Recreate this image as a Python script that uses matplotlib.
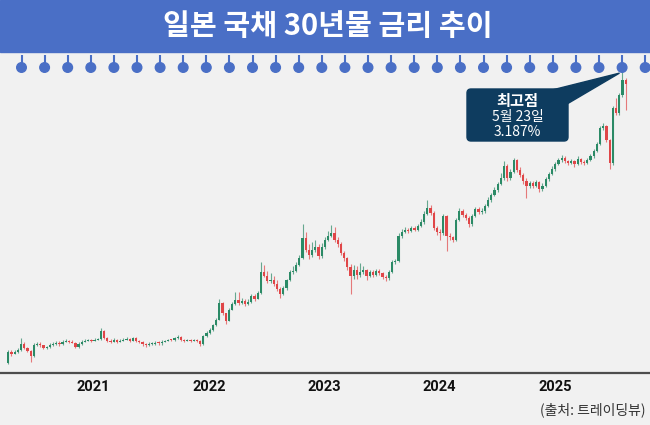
import matplotlib
matplotlib.use('Agg')
import matplotlib.pyplot as plt
import matplotlib.dates as mdates
from matplotlib.patches import Rectangle, Circle, FancyBboxPatch, Polygon
import pandas as pd
import numpy as np

plt.rcParams['font.family'] = ['Noto Sans CJK KR', 'DejaVu Sans']

# ---------------- data ----------------
title = "일본 국채 30년물 금리 추이"
source = "(출처: 트레이딩뷰)"
callout_lines = ["최고점", "5월 23일", "3.187%"]
year_labels = ["2021", "2022", "2023", "2024", "2025"]
year_ticks = ["2021-01-01", "2022-01-01", "2023-01-01", "2024-01-01", "2025-01-01"]
start_date = "2020-04-06"
end_date = "2025-08-12"

first_open = 0.543
close = [0.643, 0.625, 0.643, 0.661, 0.715, 0.679, 0.652, 0.606, 0.706, 0.715,
         0.706, 0.679, 0.688, 0.706, 0.715, 0.725, 0.715, 0.734, 0.743, 0.734,
         0.725, 0.688, 0.715, 0.734, 0.743, 0.752, 0.743, 0.752, 0.761, 0.834,
         0.770, 0.743, 0.734, 0.752, 0.734, 0.743, 0.752, 0.761, 0.743, 0.770,
         0.743, 0.734, 0.715, 0.706, 0.715, 0.718, 0.725, 0.722, 0.734, 0.743,
         0.752, 0.749, 0.770, 0.779, 0.752, 0.743, 0.752, 0.743, 0.752, 0.743,
         0.715, 0.788, 0.815, 0.843, 0.888, 0.934, 1.088, 0.997, 0.925, 1.025,
         1.079, 1.115, 1.088, 1.106, 1.079, 1.097, 1.152, 1.125, 1.179, 1.370,
         1.334, 1.288, 1.297, 1.261, 1.215, 1.170, 1.225, 1.297, 1.370, 1.379,
         1.434, 1.497, 1.679, 1.570, 1.525, 1.570, 1.597, 1.515, 1.597, 1.661,
         1.697, 1.725, 1.661, 1.625, 1.543, 1.497, 1.415, 1.334, 1.388, 1.343,
         1.370, 1.388, 1.334, 1.370, 1.343, 1.379, 1.361, 1.325, 1.315, 1.370,
         1.461, 1.470, 1.697, 1.734, 1.752, 1.743, 1.770, 1.752, 1.788, 1.825,
         1.897, 1.952, 1.906, 1.770, 1.734, 1.725, 1.879, 1.697, 1.688, 1.661,
         1.843, 1.925, 1.888, 1.861, 1.806, 1.879, 1.943, 1.915, 1.925, 1.970,
         2.025, 2.070, 2.115, 2.170, 2.225, 2.334, 2.225, 2.279, 2.388, 2.297,
         2.252, 2.197, 2.152, 2.179, 2.152, 2.188, 2.125, 2.152, 2.215, 2.261,
         2.306, 2.352, 2.388, 2.406, 2.379, 2.361, 2.379, 2.352, 2.397, 2.370,
         2.361, 2.388, 2.425, 2.470, 2.534, 2.679, 2.697, 2.570, 2.361, 2.861,
         2.815, 2.979, 3.115, 3.079]
high = [0.66, 0.66, 0.66, 0.68, 0.77, 0.73, 0.69, 0.66, 0.72, 0.73,
        0.73, 0.71, 0.70, 0.72, 0.73, 0.74, 0.74, 0.75, 0.76, 0.75,
        0.75, 0.73, 0.73, 0.75, 0.76, 0.76, 0.76, 0.77, 0.77, 0.86,
        0.84, 0.78, 0.76, 0.77, 0.76, 0.76, 0.77, 0.78, 0.77, 0.78,
        0.78, 0.75, 0.74, 0.72, 0.73, 0.73, 0.74, 0.74, 0.75, 0.75,
        0.76, 0.76, 0.78, 0.80, 0.79, 0.76, 0.76, 0.76, 0.76, 0.76,
        0.75, 0.80, 0.83, 0.86, 0.90, 0.95, 1.12, 1.10, 1.00, 1.04,
        1.10, 1.19, 1.19, 1.13, 1.12, 1.12, 1.17, 1.17, 1.20, 1.46,
        1.43, 1.38, 1.36, 1.33, 1.30, 1.23, 1.24, 1.31, 1.39, 1.42,
        1.46, 1.52, 1.81, 1.73, 1.62, 1.64, 1.66, 1.62, 1.63, 1.69,
        1.74, 1.80, 1.78, 1.69, 1.64, 1.56, 1.51, 1.44, 1.43, 1.42,
        1.45, 1.42, 1.40, 1.39, 1.39, 1.40, 1.40, 1.37, 1.34, 1.39,
        1.48, 1.49, 1.72, 1.76, 1.78, 1.77, 1.79, 1.79, 1.81, 1.85,
        1.92, 2.02, 1.98, 1.92, 1.79, 1.76, 1.90, 1.89, 1.72, 1.70,
        1.86, 1.95, 1.94, 1.91, 1.88, 1.90, 1.96, 1.96, 1.95, 1.99,
        2.05, 2.09, 2.14, 2.19, 2.27, 2.38, 2.35, 2.31, 2.41, 2.40,
        2.32, 2.27, 2.22, 2.20, 2.20, 2.21, 2.20, 2.18, 2.23, 2.28,
        2.33, 2.37, 2.41, 2.43, 2.42, 2.39, 2.40, 2.39, 2.42, 2.41,
        2.39, 2.41, 2.44, 2.49, 2.55, 2.70, 2.72, 2.71, 2.58, 2.88,
        2.95, 3.00, 3.187, 3.13]
low = [0.53, 0.61, 0.62, 0.63, 0.65, 0.67, 0.64, 0.55, 0.60, 0.70,
       0.69, 0.67, 0.67, 0.68, 0.70, 0.71, 0.70, 0.71, 0.73, 0.72,
       0.72, 0.68, 0.68, 0.71, 0.73, 0.74, 0.73, 0.74, 0.75, 0.75,
       0.76, 0.73, 0.72, 0.73, 0.72, 0.73, 0.74, 0.75, 0.73, 0.74,
       0.73, 0.72, 0.70, 0.69, 0.70, 0.71, 0.71, 0.71, 0.71, 0.73,
       0.74, 0.74, 0.74, 0.76, 0.74, 0.73, 0.74, 0.73, 0.74, 0.73,
       0.70, 0.71, 0.78, 0.81, 0.83, 0.88, 0.93, 0.98, 0.90, 0.92,
       1.02, 1.07, 1.07, 1.08, 1.06, 1.07, 1.09, 1.11, 1.12, 1.17,
       1.32, 1.27, 1.27, 1.24, 1.20, 1.13, 1.16, 1.21, 1.29, 1.35,
       1.37, 1.42, 1.49, 1.55, 1.49, 1.51, 1.55, 1.49, 1.50, 1.58,
       1.65, 1.69, 1.64, 1.60, 1.52, 1.47, 1.39, 1.17, 1.31, 1.31,
       1.32, 1.35, 1.30, 1.32, 1.32, 1.33, 1.34, 1.31, 1.29, 1.30,
       1.36, 1.44, 1.46, 1.68, 1.72, 1.72, 1.73, 1.74, 1.74, 1.78,
       1.81, 1.89, 1.89, 1.75, 1.71, 1.66, 1.71, 1.56, 1.66, 1.64,
       1.65, 1.83, 1.87, 1.84, 1.78, 1.79, 1.87, 1.90, 1.90, 1.91,
       1.96, 2.01, 2.06, 2.10, 2.16, 2.21, 2.20, 2.21, 2.27, 2.28,
       2.23, 2.17, 2.04, 2.13, 2.13, 2.14, 2.10, 2.11, 2.14, 2.20,
       2.25, 2.29, 2.34, 2.37, 2.36, 2.34, 2.35, 2.32, 2.34, 2.35,
       2.34, 2.35, 2.38, 2.41, 2.46, 2.52, 2.66, 2.55, 2.31, 2.34,
       2.80, 2.80, 2.96, 2.84]

# ---------------- figure ----------------
W, H = 650, 425
fig = plt.figure(figsize=(W / 100, H / 100), dpi=100)
fig.patch.set_facecolor('#f1f1f1')

axis_y_px, top_px = 373, 50
ax = fig.add_axes([0, 1 - axis_y_px / H, 1, (axis_y_px - top_px) / H])
ax.set_facecolor('none')

dates = pd.date_range(start_date, end_date, periods=len(close))
x = mdates.date2num(dates)
c = np.array(close)
o = np.array([first_open] + close[:-1])
up = c >= o
green, red = '#2b8a66', '#e04648'
colors = np.where(up, green, red)

ax.vlines(x, low, high, colors=colors, linewidth=0.8, alpha=0.7, zorder=2)
body_bottom = np.minimum(o, c)
body_h = np.maximum(np.abs(c - o), 0.008)
ax.bar(x, body_h, bottom=body_bottom, width=7, color=colors, linewidth=0, zorder=3)

ax.set_xlim(mdates.date2num(pd.Timestamp('2020-03-11')),
            mdates.date2num(pd.Timestamp('2025-10-28')))
ax.set_ylim(0.4518, 3.388)
ax.set_yticks([])
ax.set_xticks(mdates.date2num(pd.to_datetime(year_ticks)))
ax.set_xticklabels(year_labels, fontsize=10.5, fontweight='bold', family='Roboto', color='#111111')
ax.tick_params(axis='x', length=0, pad=5)
for s in ['top', 'left', 'right']:
    ax.spines[s].set_visible(False)
ax.spines['bottom'].set_color('#4d4d4d')
ax.spines['bottom'].set_linewidth(1.6)

# ---------------- overlay (banner, rings, callout) ----------------
ov = fig.add_axes([0, 0, 1, 1], zorder=5)
ov.set_xlim(0, W)
ov.set_ylim(H, 0)
ov.axis('off')
ov.patch.set_alpha(0)

blue = '#4a6fc6'
ov.add_patch(Rectangle((0, 0), W, 52, color=blue, zorder=1))
ov.text(W / 2 + 3, 26, title, color='white', fontsize=21, fontweight='heavy',
        ha='center', va='center', zorder=2)
for k in range(28):
    cx = 21.5 + 23.1 * k
    ov.plot([cx, cx], [55, 65], color=blue, lw=1.5, solid_capstyle='butt', zorder=2)
    ov.add_patch(Circle((cx, 67.5), 4.8, color=blue, zorder=2))

# callout pointing to peak
imax = int(np.argmax(high))
px, py = ax.transData.transform((x[imax], high[imax]))
tip = ov.transData.inverted().transform((px, py))
navy = '#0e3c5f'
ov.add_patch(Polygon([(552, 90), (567, 104), (tip[0] - 3, tip[1] + 1)], closed=True,
                     color=navy, zorder=3))
ov.add_patch(FancyBboxPatch((467, 89), 101, 52, boxstyle='round,pad=0,rounding_size=4',
                            color=navy, zorder=3))
ov.text(517.5, 101, callout_lines[0], color='white', fontsize=11, fontweight='bold',
        ha='center', va='center', zorder=4)
ov.text(517.5, 116.5, callout_lines[1], color='white', fontsize=10,
        ha='center', va='center', zorder=4)
ov.text(517.5, 131.5, callout_lines[2], color='white', fontsize=10,
        ha='center', va='center', zorder=4)

ov.text(645, 410, source, color='#333333', fontsize=10, ha='right', va='center')

fig.savefig('out.png', dpi=100, facecolor=fig.get_facecolor())
